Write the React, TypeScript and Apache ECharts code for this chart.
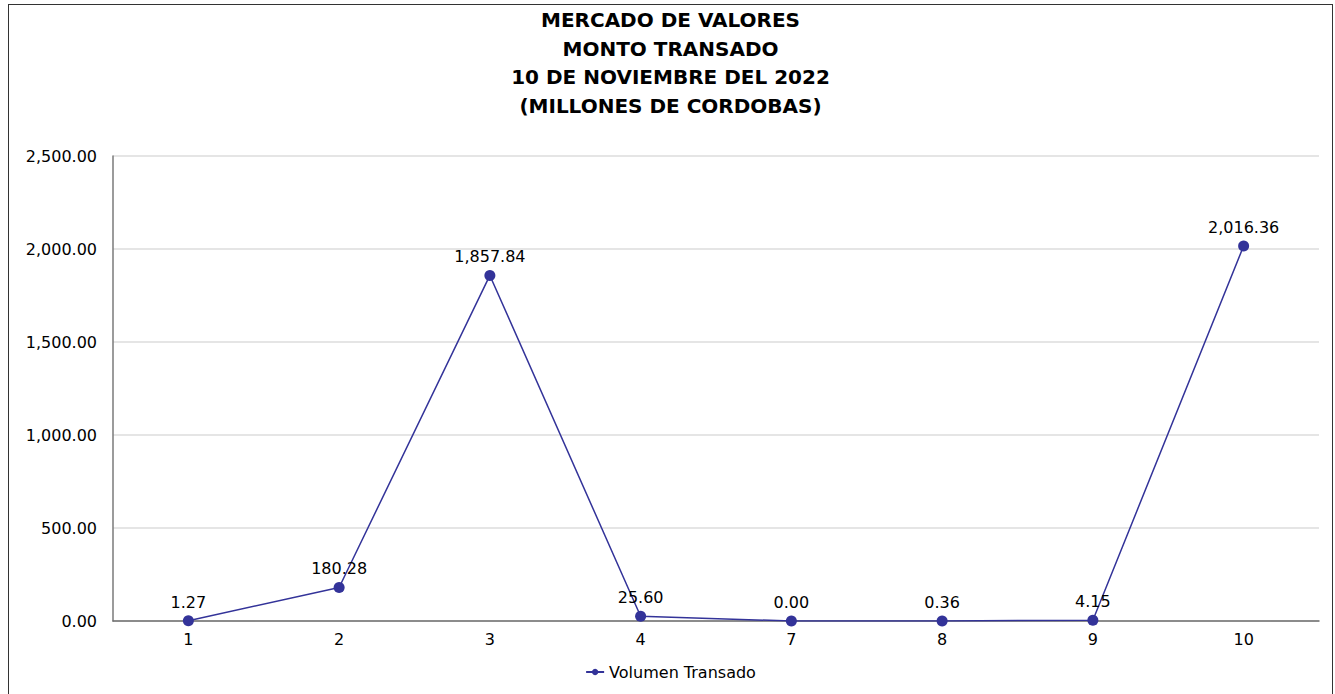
import React, { useEffect, useRef } from "react";
import * as echarts from "echarts";

const categories = ["1", "2", "3", "4", "7", "8", "9", "10"];
const volumenTransado = [1.27, 180.28, 1857.84, 25.6, 0.0, 0.36, 4.15, 2016.36];
const titleLines = [
  "MERCADO DE VALORES",
  "MONTO TRANSADO",
  "10 DE NOVIEMBRE DEL 2022",
  "(MILLONES DE CORDOBAS)",
];
const seriesName = "Volumen Transado";

const fmt = (v: number) =>
  v.toLocaleString("en-US", { minimumFractionDigits: 2, maximumFractionDigits: 2 });

export default function App() {
  const ref = useRef<HTMLDivElement>(null);
  useEffect(() => {
    if (!ref.current) return;
    const chart = echarts.init(ref.current, undefined, { renderer: "svg" });
    const font = "DejaVu Sans, Verdana, sans-serif";
    chart.setOption({
      animation: false,
      textStyle: { fontFamily: font },
      title: {
        text: titleLines.join("\n"),
        left: "center",
        top: -4,
        textStyle: {
          fontFamily: font,
          fontWeight: "bold",
          fontSize: 20,
          lineHeight: 28.5,
          color: "#000",
        },
      },
      legend: {
        bottom: 10,
        left: "center",
        data: [seriesName],
        itemWidth: 18,
        itemHeight: 8,
        textStyle: { fontFamily: font, fontSize: 16, color: "#000" },
      },
      grid: { left: 104, right: 13, top: 151, bottom: 74 },
      xAxis: {
        type: "category",
        data: categories,
        boundaryGap: true,
        axisLine: { lineStyle: { color: "#6e6e6e", width: 1.5 } },
        axisTick: { show: false },
        axisLabel: { color: "#000", fontSize: 16, margin: 10, fontFamily: font },
      },
      yAxis: {
        type: "value",
        min: 0,
        max: 2500,
        interval: 500,
        axisLine: { show: true, lineStyle: { color: "#7a7a7a", width: 1.5 } },
        axisTick: { show: false },
        splitLine: { lineStyle: { color: "#dcdcdc", width: 1.5 } },
        axisLabel: {
          color: "#000",
          fontSize: 16,
          margin: 16,
          fontFamily: font,
          formatter: (v: number) => fmt(v),
        },
      },
      series: [
        {
          name: seriesName,
          type: "line",
          data: volumenTransado,
          symbol: "circle",
          symbolSize: 11,
          color: "#333399",
          lineStyle: { color: "#333399", width: 1.5 },
          itemStyle: { color: "#333399" },
          label: {
            show: true,
            position: "top",
            distance: 5,
            color: "#000",
            fontSize: 16,
            fontFamily: font,
            formatter: (p: any) => fmt(p.value),
          },
        },
      ],
    });
    return () => chart.dispose();
  }, []);
  return (
    <div
      style={{
        position: "absolute",
        left: 8,
        top: 4,
        width: 1325,
        height: 700,
        border: "1.5px solid #333",
        boxSizing: "border-box",
        background: "#fff",
      }}
    >
      <div ref={ref} style={{ width: "100%", height: 690 }} />
    </div>
  );
}
